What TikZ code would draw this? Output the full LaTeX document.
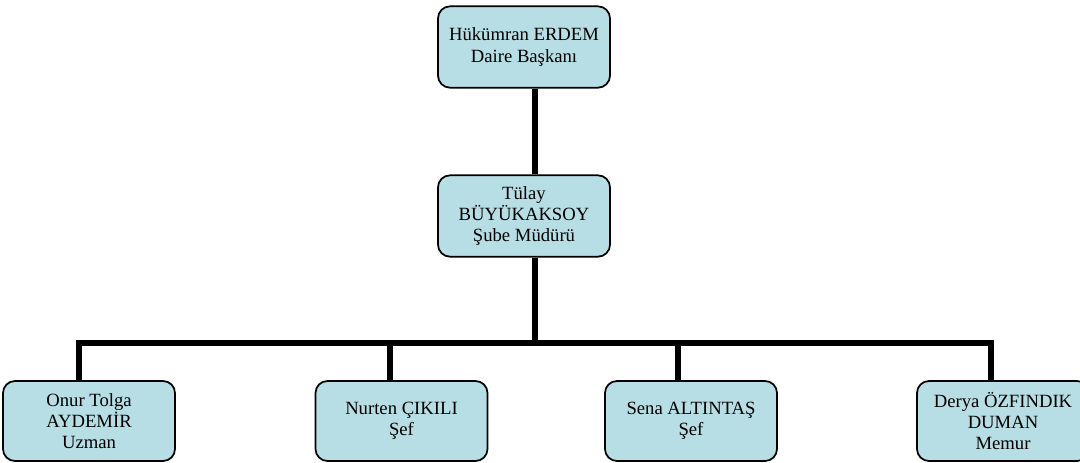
\documentclass[tikz,border=0pt]{standalone}
\usepackage{fontspec}
\setmainfont{Liberation Serif}
\usetikzlibrary{calc}
\definecolor{boxfill}{RGB}{183,222,228}
\tikzset{
  person/.style={draw=black, line width=1.3pt, fill=boxfill, rounded corners=9pt,
    minimum width=129pt, minimum height=61pt, inner sep=0pt, align=center,
    font=\fontsize{14}{16}\selectfont},
  conn/.style={draw=black, line width=4.5pt, line join=miter}
}
\begin{document}
\begin{tikzpicture}[x=0.75pt,y=-0.75pt]
\useasboundingbox (0,0) rectangle (1080,462);
\fill[white] (0,0) rectangle (1080,462);
\node[person] (top) at (524,47) {Hükümran ERDEM\\Daire Başkanı};
\node[person] (mid) at (524,216) {Tülay\\BÜYÜKAKSOY\\Şube Müdürü};
\node[person, minimum height=60pt] (b1) at (89,421) {Onur Tolga\\AYDEMİR\\Uzman};
\node[person, minimum height=60pt] (b2) at (401.5,421) {Nurten ÇIKILI\\Şef};
\node[person, minimum height=60pt] (b3) at (691,421) {Sena ALTINTAŞ\\Şef};
\node[person, minimum height=60pt] (b4) at (1003,421) {Derya ÖZFINDIK\\DUMAN\\Memur};
\coordinate (t0) at ([xshift=8.25pt]top.south);
\coordinate (m0) at ([xshift=8.25pt]mid.north);
\coordinate (m1) at ([xshift=8.25pt]mid.south);
\coordinate (bar) at (535,343);
\coordinate (k1) at ([xshift=-7.5pt]b1.north);
\coordinate (k2) at ([xshift=-8.6pt]b2.north);
\coordinate (k3) at ([xshift=-9.4pt]b3.north);
\coordinate (k4) at ([xshift=-9pt]b4.north);
\draw[conn] (t0) -- (m0);
\draw[conn] (m1) -- (m1 |- bar);
\draw[conn] (k1) |- (bar) -| (k4);
\draw[conn] (k2) -- (k2 |- bar);
\draw[conn] (k3) -- (k3 |- bar);
\end{tikzpicture}
\end{document}
